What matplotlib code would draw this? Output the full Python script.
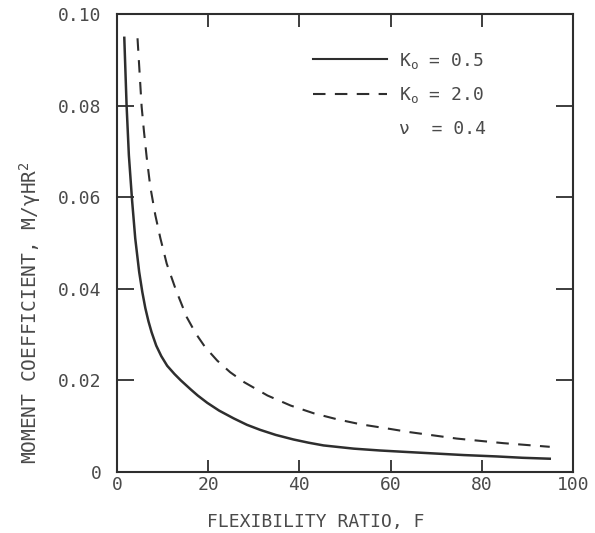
import matplotlib
matplotlib.use("Agg")
import matplotlib.pyplot as plt
from matplotlib.lines import Line2D

# ---- data ----
F_k05 = [1.6, 2.1, 2.6, 3.3, 4.0, 4.86, 5.55, 6.21, 6.9, 7.59, 8.6, 9.71, 11.0, 12.6,
         14.0, 16.2, 17.7, 19.8, 22.4, 25.6, 28.5, 31.4, 34.8, 38.7, 42.0, 45.3,
         51.9, 57.6, 63.0, 68.6, 76.0, 83.2, 89.0, 94.9]
M_k05 = [0.0948, 0.0801, 0.0692, 0.0594, 0.0510, 0.0437, 0.0393, 0.0358, 0.0329, 0.0305,
         0.0276, 0.0253, 0.0232, 0.0214, 0.0200, 0.0180, 0.0167, 0.0151, 0.0134, 0.0117,
         0.0103, 0.0092, 0.0081, 0.0071, 0.0064, 0.0058, 0.0051, 0.0047, 0.0044, 0.0041,
         0.0037, 0.0034, 0.0031, 0.0029]

F_k20 = [4.5, 5.4, 5.9, 6.5, 7.3, 8.4, 9.5, 10.9, 12.9, 15.3, 17.3, 19.3, 22.0, 24.8,
         27.9, 33.0, 38.1, 43.2, 48.3, 53.5, 59.3, 64.2, 74.5, 84.7, 94.9]
M_k20 = [0.0947, 0.0798, 0.0745, 0.0688, 0.0623, 0.0561, 0.0511, 0.0455, 0.0398, 0.0338,
         0.0302, 0.0273, 0.0243, 0.0218, 0.0196, 0.0167, 0.0145, 0.0128, 0.0115, 0.0104,
         0.0095, 0.0087, 0.0073, 0.0063, 0.0055]

x_ticks = [0, 20, 40, 60, 80, 100]
y_ticks = [0, 0.02, 0.04, 0.06, 0.08, 0.10]
y_tick_labels = ["0", "0.02", "0.04", "0.06", "0.08", "0.10"]

labels = [r"K$_\mathrm{o}$ = 0.5", r"K$_\mathrm{o}$ = 2.0", "ν  = 0.4"]
x_label = "FLEXIBILITY RATIO, F"
y_label = r"MOMENT COEFFICIENT, M/γHR$^\mathrm{2}$"

# ---- style ----
plt.rcParams["font.family"] = ["DejaVu Sans Mono"]
plt.rcParams["mathtext.fontset"] = "custom"
plt.rcParams["mathtext.rm"] = "DejaVu Sans Mono"
plt.rcParams["mathtext.it"] = "DejaVu Sans Mono"
plt.rcParams["mathtext.default"] = "rm"

LINE = "#2e2e2e"
TEXT = "#4a4a4a"

fig = plt.figure(figsize=(5.95, 5.33), dpi=100)
ax = fig.add_axes([117 / 595, 1 - 472 / 533, 456 / 595, 458 / 533])

ax.plot(F_k05, M_k05, color=LINE, lw=1.8, solid_joinstyle="round")
ax.plot(F_k20, M_k20, color=LINE, lw=1.5, linestyle=(0, (6, 4.5)))

ax.set_xlim(0, 100)
ax.set_ylim(0, 0.10)
ax.set_xticks(x_ticks)
ax.set_yticks(y_ticks)
ax.set_yticklabels(y_tick_labels)

for s in ax.spines.values():
    s.set_linewidth(1.5)
    s.set_color(LINE)

ax.tick_params(direction="in", top=True, right=True, width=1.3, color=LINE,
               labelcolor=TEXT, labelsize=13)
ax.tick_params(axis="y", length=12, pad=11)
ax.tick_params(axis="x", length=9, pad=3)

ax.set_xlabel(x_label, fontsize=13, color=TEXT)
ax.xaxis.set_label_coords(0.435, -0.09)
ax.set_ylabel(y_label, fontsize=14, color=TEXT)
ax.yaxis.set_label_coords(-0.162, 0.347)

handles = [Line2D([], [], color=LINE, lw=1.5),
           Line2D([], [], color=LINE, lw=1.5, linestyle=(0, (6, 4.5))),
           Line2D([], [], color="none")]
leg = ax.legend(handles, labels, loc="upper left", bbox_to_anchor=(0.43, 0.92),
                frameon=False, fontsize=13, handlelength=4.1, handletextpad=0.65,
                labelspacing=0.8, borderpad=0, borderaxespad=0)
for t in leg.get_texts():
    t.set_color(TEXT)

fig.savefig("out.png", dpi=100, facecolor="white")
